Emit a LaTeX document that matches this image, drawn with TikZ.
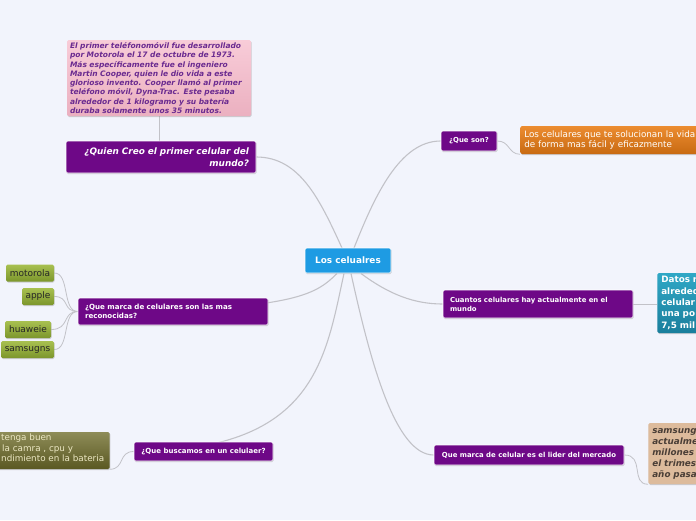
\documentclass[tikz,border=0pt]{standalone}
\usepackage{fontspec}
\setmainfont{DejaVu Sans}
\usetikzlibrary{shadows}
\pgfdeclarelayer{bglayer}
\pgfsetlayers{bglayer,main}
\definecolor{bg}{HTML}{F2F4FC}
\definecolor{purp}{HTML}{6E0887}
\definecolor{cblue}{HTML}{1E9BE3}
\definecolor{conn}{HTML}{C2C2C8}
\definecolor{pinkf}{HTML}{F8CCD8}
\definecolor{pinkb}{HTML}{EBB0C0}
\definecolor{pinkt}{HTML}{6A2A90}
\definecolor{tanf}{HTML}{DDBB9C}
\definecolor{tant}{HTML}{4A3E36}
\definecolor{orat}{HTML}{EC8C30}
\definecolor{orab}{HTML}{C86A12}
\definecolor{tealt}{HTML}{30A8C6}
\definecolor{tealb}{HTML}{1A7E9C}
\definecolor{grnt}{HTML}{A8C050}
\definecolor{grnb}{HTML}{7C962C}
\definecolor{olvt}{HTML}{8E8C58}
\definecolor{olvb}{HTML}{5A5822}
\definecolor{olvtext}{HTML}{ECE8C4}
\tikzset{
  box/.style={rectangle, rounded corners=1.5pt, inner sep=0pt, draw=white, line width=0.6pt,
    drop shadow={shadow xshift=0.6pt, shadow yshift=-1pt, opacity=0.35}},
  mainbox/.style={box, fill=cblue, text=white, font=\fontsize{8.9}{10}\selectfont\bfseries},
  purpbox/.style={box, fill=purp, text=white, font=\fontsize{6.9}{9}\selectfont\bfseries},
  greenbox/.style={box, top color=grnt, bottom color=grnb, draw=none,
    text=black!85, font=\fontsize{9}{10}\selectfont, minimum height=17pt},
  link/.style={draw=conn, line width=1.1pt},
}
\begin{document}
\begin{tikzpicture}[x=1pt,y=-1pt]
\begin{pgfonlayer}{bglayer}
\fill[bg] (0,0) rectangle (696,520);
\end{pgfonlayer}
\useasboundingbox (0,0) rectangle (696,520);
\clip (0,0) rectangle (696,520);

% central
\node[mainbox, minimum width=86pt, minimum height=25pt] (c) at (348,260.5) {Los celualres};
\coordinate (ct1) at (342,248);
\coordinate (ct2) at (354,248);
\coordinate (cb1) at (337,273.5);
\coordinate (cb2) at (344,273.5);
\coordinate (cb3) at (351,273.5);
\coordinate (cb4) at (361,273.5);

% branches
\node[purpbox, minimum width=56pt, minimum height=20pt] (queson) at (469,141) {¿Que son?};
\node[box, anchor=west, minimum width=200pt, minimum height=28pt, draw=none,
  top color=orat, bottom color=orab,
  text=white, font=\fontsize{8.8}{10.4}\selectfont, align=left, text width=192pt, inner xsep=4pt] (orange) at (520,140)
  {Los celulares que te solucionan la vida\\de forma mas fácil y eficazmente};

\node[purpbox, minimum width=190pt, minimum height=28pt, align=left, text width=176pt] (cuantos) at (538,304)
  {Cuantos celulares hay actualmente en el\\mundo};
\node[box, anchor=west, minimum width=70pt, minimum height=60pt, draw=none,
  top color=tealt, bottom color=tealb,
  text=white, font=\fontsize{8.8}{11.4}\selectfont\bfseries, align=left, text width=62pt, inner xsep=4pt] (teal) at (657,303)
  {Datos r\\alreded\\celular\\una po\\7,5 mil};

\node[purpbox, minimum width=190pt, minimum height=20pt] (lider) at (529,455)
  {Que marca de celular es el lider del mercado};
\node[box, anchor=west, minimum width=70pt, minimum height=61pt, draw=none,
  fill=tanf, text=tant, font=\fontsize{8.8}{11}\selectfont\bfseries\itshape, align=left, text width=62pt, inner xsep=4pt] (tan) at (648,453.5)
  {samsung\\actualme\\millones\\el trimes\\año pasa};

\node[purpbox, minimum width=190pt, minimum height=32pt, align=right, text width=176pt,
  font=\fontsize{8.9}{12}\selectfont\bfseries\itshape] (quien) at (161,157)
  {¿Quien Creo el primer celular del\\mundo?};
\node[box, minimum width=184pt, minimum height=76pt, draw=none,
  top color=pinkf, bottom color=pinkb,
  text=pinkt, font=\fontsize{7.5}{9.3}\selectfont\bfseries\itshape, align=left, text width=178pt] (pink) at (159,78)
  {El primer teléfonomóvil fue desarrollado\\por Motorola el 17 de octubre de 1973.\\Más específicamente fue el ingeniero\\Martin Cooper, quien le dio vida a este\\glorioso invento. Cooper llamó al primer\\teléfono móvil, Dyna-Trac. Este pesaba\\alrededor de 1 kilogramo y su batería\\duraba solamente unos 35 minutos.};

\node[purpbox, minimum width=190pt, minimum height=27pt, align=left, text width=176pt,
  font=\fontsize{7.1}{9.2}\selectfont\bfseries] (recon) at (173,311.5)
  {¿Que marca de celulares son las mas\\reconocidas?};
\node[greenbox, minimum width=48pt] (moto) at (30,273) {motorola};
\node[greenbox, minimum width=32pt] (apple) at (38,296.5) {apple};
\node[greenbox, minimum width=46pt] (huaw) at (28,329.5) {huaweie};
\node[greenbox, minimum width=53pt] (sams) at (27.5,349.5) {samsugns};

\node[purpbox, minimum width=139pt, minimum height=19pt, font=\fontsize{7}{9}\selectfont\bfseries] (busca) at (203.5,451.5)
  {¿Que buscamos en un celulaer?};
\node[box, anchor=east, minimum width=140pt, minimum height=37pt, draw=none,
  top color=olvt, bottom color=olvb] (olive) at (110,450.5) {};
\node[anchor=north west, inner sep=0pt, text=olvtext, font=\fontsize{8.8}{10.8}\selectfont, align=left] (olivetext) at (1,433.5)
  {tenga buen\\\hspace*{1pt}la camra , cpu y\\ndimiento en la bateria};

% connectors
\begin{pgfonlayer}{bglayer}
\draw[link] (ct1) .. controls (320,200) and (300,157) .. (quien.east);
\draw[link] (ct2) .. controls (375,195) and (400,141) .. (queson.west);
\draw[link] (cb4) .. controls (390,295) and (415,304) .. (cuantos.west);
\draw[link] (cb3) .. controls (370,360) and (395,455) .. (lider.west);
\draw[link] (cb1) .. controls (315,295) and (295,311.5) .. (recon.west);
\draw[link] (cb2) .. controls (325,360) and (315,451.5) .. (busca.west);

\draw[link, line width=0.8pt] (queson.east) .. controls (510,141) and (508,154) .. (orange.south west);
\draw[link, line width=0.8pt] (cuantos.east) -- (teal.west |- cuantos.east);
\draw[link, line width=0.8pt] (lider.east) .. controls (645,455) and (630,484) .. (tan.south west);
\draw[link, line width=0.8pt] (quien.north -| pink.south) -- (pink.south);
\draw[link, line width=0.8pt] (busca.west) .. controls (118,451.5) and (125,469) .. (olive.south east);
\foreach \g in {moto,apple,huaw,sams}
  \draw[link, line width=0.8pt] (recon.west) .. controls (62,311.5) and (70,0|-\g.east) .. (\g.east);
\end{pgfonlayer}
\end{tikzpicture}
\end{document}
